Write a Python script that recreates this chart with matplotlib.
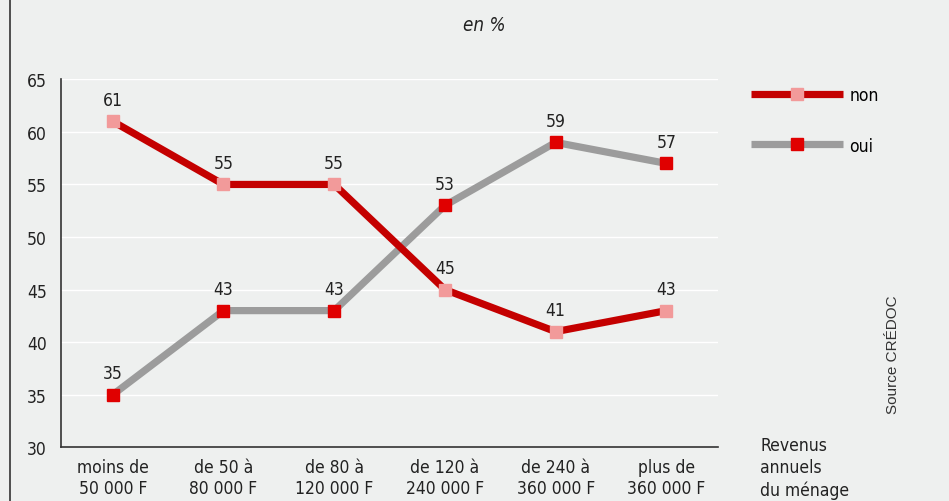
import matplotlib
matplotlib.use("Agg")
import matplotlib.pyplot as plt
from matplotlib.lines import Line2D

# données
categories = ["moins de\n50 000 F", "de 50 à\n80 000 F", "de 80 à\n120 000 F",
              "de 120 à\n240 000 F", "de 240 à\n360 000 F", "plus de\n360 000 F"]
non = [61, 55, 55, 45, 41, 43]
oui = [35, 43, 43, 53, 59, 57]
yticks = [30, 35, 40, 45, 50, 55, 60, 65]

# police étroite
plt.rcParams['font.family'] = ['DejaVu Sans']
plt.rcParams['font.stretch'] = 'condensed'

bg = "#eef0ef"
fig = plt.figure(figsize=(9.49, 5.02), dpi=100, facecolor=bg)
ax = fig.add_axes([0.064, 0.107, 0.693, 0.733], facecolor=bg)

x = list(range(len(categories)))

# courbes
ax.plot(x, oui, color="#9c9c9c", linewidth=5.2, solid_capstyle="butt",
        marker="s", markersize=9, markerfacecolor="#e00000",
        markeredgecolor="#e00000", label="oui", zorder=3)
ax.plot(x, non, color="#c40000", linewidth=5.2, solid_capstyle="butt",
        marker="s", markersize=9, markerfacecolor="#f29a9a",
        markeredgecolor="#f29a9a", label="non", zorder=4)

# étiquettes des valeurs
for xi, v in zip(x, non):
    ax.annotate(str(v), (xi, v), textcoords="offset points", xytext=(0, 9),
                ha="center", va="bottom", fontsize=12.5, color="#222222")
for xi, v in zip(x, oui):
    ax.annotate(str(v), (xi, v), textcoords="offset points", xytext=(0, 9),
                ha="center", va="bottom", fontsize=12.5, color="#222222")

ax.set_xlim(-0.47, 5.47)
ax.set_ylim(30, 65)
ax.set_yticks(yticks)
ax.set_xticks(x)
ax.set_xticklabels(categories, fontsize=12.5, linespacing=1.2)
ax.tick_params(axis="both", length=0, labelsize=12.5, colors="#222222")
ax.tick_params(axis="y", pad=10)
ax.tick_params(axis="x", pad=8)

ax.grid(axis="y", color="white", linewidth=1)
ax.set_axisbelow(True)
for s in ["top", "right"]:
    ax.spines[s].set_visible(False)
for s in ["left", "bottom"]:
    ax.spines[s].set_color("#333333")
    ax.spines[s].set_linewidth(1.2)

# légende
handles, labels = ax.get_legend_handles_labels()
leg = ax.legend(handles[::-1], labels[::-1], loc="upper left",
                bbox_to_anchor=(0.775, 0.857), bbox_transform=fig.transFigure,
                frameon=False, handlelength=5.3, labelspacing=1.85,
                numpoints=1, fontsize=12.5, handletextpad=0.35)

# textes
fig.text(0.51, 0.95, "en %", ha="center", va="center", fontsize=13.5,
         style="italic", color="#222222")
fig.text(0.801, 0.13, "Revenus\nannuels\ndu ménage", ha="left", va="top",
         fontsize=12.5, linespacing=1.3, color="#222222")
fig.text(0.941, 0.175, "Source CRÉDOC", rotation=90, ha="center",
         va="bottom", fontsize=11, color="#333333",
         family=["Liberation Sans", "DejaVu Sans"], stretch="normal")

# bordure gauche
fig.add_artist(Line2D([0.011, 0.011], [0, 1], transform=fig.transFigure,
                      color="#333333", linewidth=1.2))

plt.savefig("out.png", dpi=100, facecolor=bg)
